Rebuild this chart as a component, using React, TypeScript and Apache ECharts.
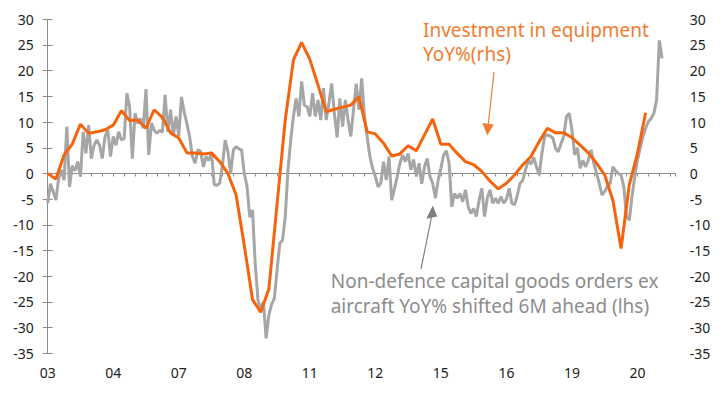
import React, { useEffect, useRef } from 'react';
import * as echarts from 'echarts';

// x-axis tick labels (every 24 months from Jan 2003, as printed on the original)
const xLabels = ['03', '04', '07', '08', '11', '12', '15', '16', '19', '20'];

// Non-defence capital goods orders ex aircraft YoY%, shifted 6M ahead (monthly, lhs)
const ordersShifted = [
  -5.8, -2, -3.5, -5.2, -1, 0.7, -1.3, 9.1, -2.6, 1.5, 0.5, 2.3,
  -0.6, 8.1, 3.9, 9.4, 2.9, 5.5, 6.5, 5.5, 2.9, 7.2, 8.5, 3.3,
  7.2, 5.5, 8.1, 6.5, 6.8, 15.6, 13.0, 2.9, 11.7, 9.7, 10.7, 8.8,
  16.4, 3.6, 9.8, 8.4, 7.8, 8.4, 8.0, 15.3, 8.1, 12.4, 7.3, 11.1,
  7.3, 14.9, 11.9, 9.7, 7.1, 3.3, 2.0, 4.6, 4.3, 1.3, 3.3, 2.5,
  4.0, -2.2, -2.3, -1.9, 1.6, 6.5, 4.3, 0.0, 4.6, 5.2, 4.8, 4.6,
  0.0, -2.5, -8.5, -7.1, -17.5, -24.6, -26.5, -25, -32.1, -27.5, -25.5, -24.3,
  -18.8, -13.6, -13, -8.4, 0.7, 6.5, 11.1, 14.6, 11.1, 17.9, 13.3, 13,
  11.1, 15.6, 11.1, 14.3, 10.4, 16.6, 10.4, 13.7, 17.5, 11.7, 7.0, 14.6,
  9.1, 14.3, 10.4, 7.2, 12.4, 17.5, 12.4, 18.5, 11.1, 7.2, 3.3, 1,
  -0.6, -2.6, -1.9, 2.3, -1.3, 3.3, -5.2, -3, -0.6, 2, 3.6, 2.3,
  3.9, 0.7, 2.7, -0.6, 2.0, -2, 1.3, 2.9, -0.6, -1.9, -4.8, -1.3,
  1.0, 3.6, 4.4, 2.0, -6.5, -3.9, -4.8, -3.9, -5.5, -3.2, -6.5, -7.8,
  -6.8, -8.4, -5.2, -2.9, -8.4, -4.8, -3.2, -5.8, -4.8, -5.8, -4.5, -5.8,
  -5, -2.9, -5.8, -6.1, -4.2, -1.9, -1.3, 0.7, 2.6, 1.8, 3.1, 1.3,
  -0.3, 3.9, 7.2, 7.5, 7.3, 6.9, 4.9, 4.2, 5.8, 7.2, 11.1, 11.7,
  8.5, 3.6, 5.0, 1.0, 2.5, 1.3, 2.6, 4.6, 2.0, 0.0, -1.9, -4.2,
  -3.5, -2.5, -1.9, 1.3, 0.5, 0, -0.3, -2.6, -8.4, -9.1, -4.5, -0.6,
  2.6, 4.9, 7.2, 8.8, 10.1, 10.7, 11.7, 14.3, 25.9, 22.4,
];

// Investment in equipment YoY% (quarterly, rhs)
const equipmentInvestment = [
  0.0, -1.1, 3.6, 5.7, 9.6, 7.8, 8.1, 8.5, 9.4, 12.2, 10.3, 10.4,
  8.8, 12.4, 10.9, 7.9, 6.9, 4.0, 4.0, 3.8, 4.0, 2.3, 0.0, -4.2,
  -14, -24.5, -27, -22.5, -6, 10.4, 22.1, 25.5, 22.2, 17.2, 12.0, 12.5,
  12.9, 13.3, 14.9, 8.1, 7.7, 5.9, 3.4, 3.8, 5.4, 4.4, 7.5, 10.6,
  5.7, 5.7, 3.9, 2.3, 1.7, 0.4, -1.5, -3.0, -1.9, -0.3, 1.7, 3.3,
  6.2, 8.8, 7.9, 7.9, 7.0, 5.5, 4.0, 2.0, -0.3, -5.2, -14.6, -2.2,
  3.9, 11.8,
];

export default function App() {
  const ref = useRef<HTMLDivElement>(null);

  useEffect(() => {
    if (!ref.current) return;
    const chart = echarts.init(ref.current, null, { renderer: 'svg' });
    const axisGray = '#8c8c8c';
    const font = 'Noto Sans';
    const orangeText = '#EE7D31';
    const grayText = '#8c8c8c';

    const yAxisBase = (position: 'left' | 'right') => ({
      type: 'value',
      min: -35,
      max: 30,
      interval: 5,
      position,
      axisLine: { show: true, lineStyle: { color: axisGray, width: 1 } },
      axisTick: { show: true, length: 5, lineStyle: { color: axisGray } },
      splitLine: { show: false },
      axisLabel: { color: '#222', fontSize: 14, fontFamily: font, margin: 14 },
    });

    chart.setOption({
      animation: false,
      backgroundColor: '#ffffff',
      grid: { left: 47.7, right: 48.3, top: 19.3, bottom: 43.7, containLabel: false },
      xAxis: [
        {
          type: 'value',
          min: 0,
          max: 230,
          interval: 24,
          position: 'bottom',
          axisLine: { show: false, onZero: false },
          axisTick: { show: false },
          splitLine: { show: false },
          axisLabel: {
            formatter: (v: number) => xLabels[Math.round(v / 24)] ?? '',
            color: '#222',
            fontSize: 14,
            fontFamily: font,
            margin: 12,
          },
        },
        {
          type: 'value',
          min: 0,
          max: 230,
          interval: 4,
          position: 'bottom',
          axisLine: { show: true, onZero: true, lineStyle: { color: axisGray, width: 1 } },
          axisTick: { show: true, length: 3, lineStyle: { color: axisGray } },
          axisLabel: { show: false },
          splitLine: { show: false },
        },
      ],
      yAxis: [yAxisBase('left'), yAxisBase('right')],
      series: [
        {
          type: 'line',
          name: 'Orders',
          xAxisIndex: 0,
          yAxisIndex: 0,
          data: ordersShifted.map((v, i) => [i, v]),
          symbol: 'none',
          lineStyle: { color: '#a6a6a6', width: 3 },
          z: 2,
        },
        {
          type: 'line',
          name: 'Equipment',
          xAxisIndex: 0,
          yAxisIndex: 1,
          data: equipmentInvestment.map((v, i) => [i * 3, v]),
          symbol: 'none',
          lineStyle: { color: '#F5640C', width: 3 },
          z: 3,
        },
      ],
      graphic: [
        {
          type: 'text', x: 423, y: 30, z: 10,
          style: { text: 'Investment in equipment', fill: orangeText, fontSize: 19, fontFamily: font, verticalAlign: 'middle' },
        },
        {
          type: 'text', x: 423, y: 54, z: 10,
          style: { text: 'YoY%(rhs)', fill: orangeText, fontSize: 19, fontFamily: font, verticalAlign: 'middle' },
        },
        {
          type: 'line', z: 10,
          shape: { x1: 494, y1: 72, x2: 488.3, y2: 124 },
          style: { stroke: orangeText, lineWidth: 1.2 },
        },
        {
          type: 'polygon', z: 10,
          shape: { points: [[482.3, 123], [493.8, 124.5], [487.3, 135.5]] },
          style: { fill: orangeText },
        },
        {
          type: 'text', x: 330.7, y: 281, z: 10,
          style: { text: 'Non-defence capital goods orders ex', fill: grayText, fontSize: 19, fontFamily: font, verticalAlign: 'middle' },
        },
        {
          type: 'text', x: 330.7, y: 305.5, z: 10,
          style: { text: 'aircraft YoY% shifted 6M ahead (lhs)', fill: grayText, fontSize: 19, fontFamily: font, verticalAlign: 'middle' },
        },
        {
          type: 'line', z: 10,
          shape: { x1: 421, y1: 269, x2: 431.5, y2: 217 },
          style: { stroke: '#7f7f7f', lineWidth: 1.2 },
        },
        {
          type: 'polygon', z: 10,
          shape: { points: [[426.3, 218.8], [437.2, 216.6], [432.8, 205.5]] },
          style: { fill: '#7f7f7f' },
        },
      ],
    });

    return () => chart.dispose();
  }, []);

  return (
    <div
      ref={ref}
      style={{ position: 'fixed', left: 0, top: 0, width: 724, height: 397, background: '#fff' }}
    />
  );
}
